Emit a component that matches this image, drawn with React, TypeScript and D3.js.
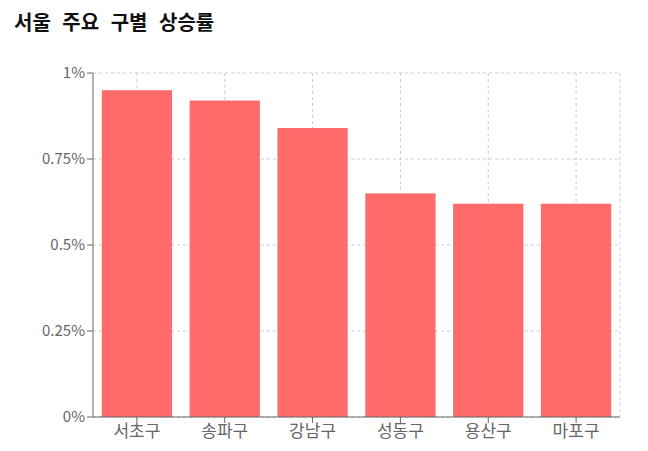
import React from "react";
import * as d3 from "d3";

const categories = ["서초구", "송파구", "강남구", "성동구", "용산구", "마포구"];
const values = [0.95, 0.92, 0.84, 0.65, 0.62, 0.62];
const yTicks = [0, 0.25, 0.5, 0.75, 1];
const yTickLabels = ["0%", "0.25%", "0.5%", "0.75%", "1%"];
const title = "서울 주요 구별 상승률";

const W = 648;
const H = 451;
const M = { left: 93, right: 620, top: 73, bottom: 417 };
const FONT = "'Noto Sans CJK KR', 'Noto Sans', sans-serif";

export default function App() {
  const band = d3.scaleBand<string>().domain(categories).range([M.left, M.right]);
  const y = d3.scaleLinear().domain([0, 1]).range([M.bottom, M.top]);
  const centers = categories.map((c) => (band(c) as number) + band.bandwidth() / 2);

  return (
    <>
      <style>{`body{margin:0}`}</style>
      <svg width={W} height={H} style={{ display: "block", fontFamily: FONT }}>
        <text x={14} y={30} fontSize={20} fontWeight={700} wordSpacing={7} fill="#111">
          {title}
        </text>
        {/* grid */}
        <g stroke="#ccc" strokeDasharray="3 3" fill="none">
          {yTicks.map((t) => (
            <line key={"h" + t} x1={M.left} x2={M.right} y1={y(t)} y2={y(t)} />
          ))}
          {centers.map((cx, i) => (
            <line key={"v" + i} x1={cx} x2={cx} y1={M.top} y2={M.bottom} />
          ))}
          <line x1={M.right} x2={M.right} y1={M.top} y2={M.bottom} />
        </g>
        {/* bars */}
        {categories.map((c, i) => {
          const bw = band.bandwidth();
          const gap = bw * 0.1;
          const bx = (band(c) as number) + gap;
          return (
            <rect
              key={c}
              x={bx}
              y={y(values[i])}
              width={bw - 2 * gap}
              height={y(0) - y(values[i])}
              fill="#ff6b6b"
            />
          );
        })}
        {/* y axis */}
        <g>
          <line x1={M.left} x2={M.left} y1={M.top} y2={M.bottom} stroke="#666" />
          {yTicks.map((t, i) => (
            <g key={"yt" + t}>
              <line x1={M.left - 6} x2={M.left} y1={y(t)} y2={y(t)} stroke="#666" />
              <text
                x={M.left - 8}
                y={y(t)}
                dy="0.355em"
                textAnchor="end"
                fontSize={15}
                fill="#666"
              >
                {yTickLabels[i]}
              </text>
            </g>
          ))}
        </g>
        {/* x axis */}
        <g>
          <line x1={M.left} x2={M.right} y1={M.bottom} y2={M.bottom} stroke="#666" />
          {categories.map((c, i) => (
            <g key={"xt" + c}>
              <line x1={centers[i]} x2={centers[i]} y1={M.bottom} y2={M.bottom + 6} stroke="#666" />
              <text
                x={centers[i]}
                y={M.bottom + 20}
                textAnchor="middle"
                fontSize={17}
                fill="#666"
              >
                {c}
              </text>
            </g>
          ))}
        </g>
      </svg>
    </>
  );
}
